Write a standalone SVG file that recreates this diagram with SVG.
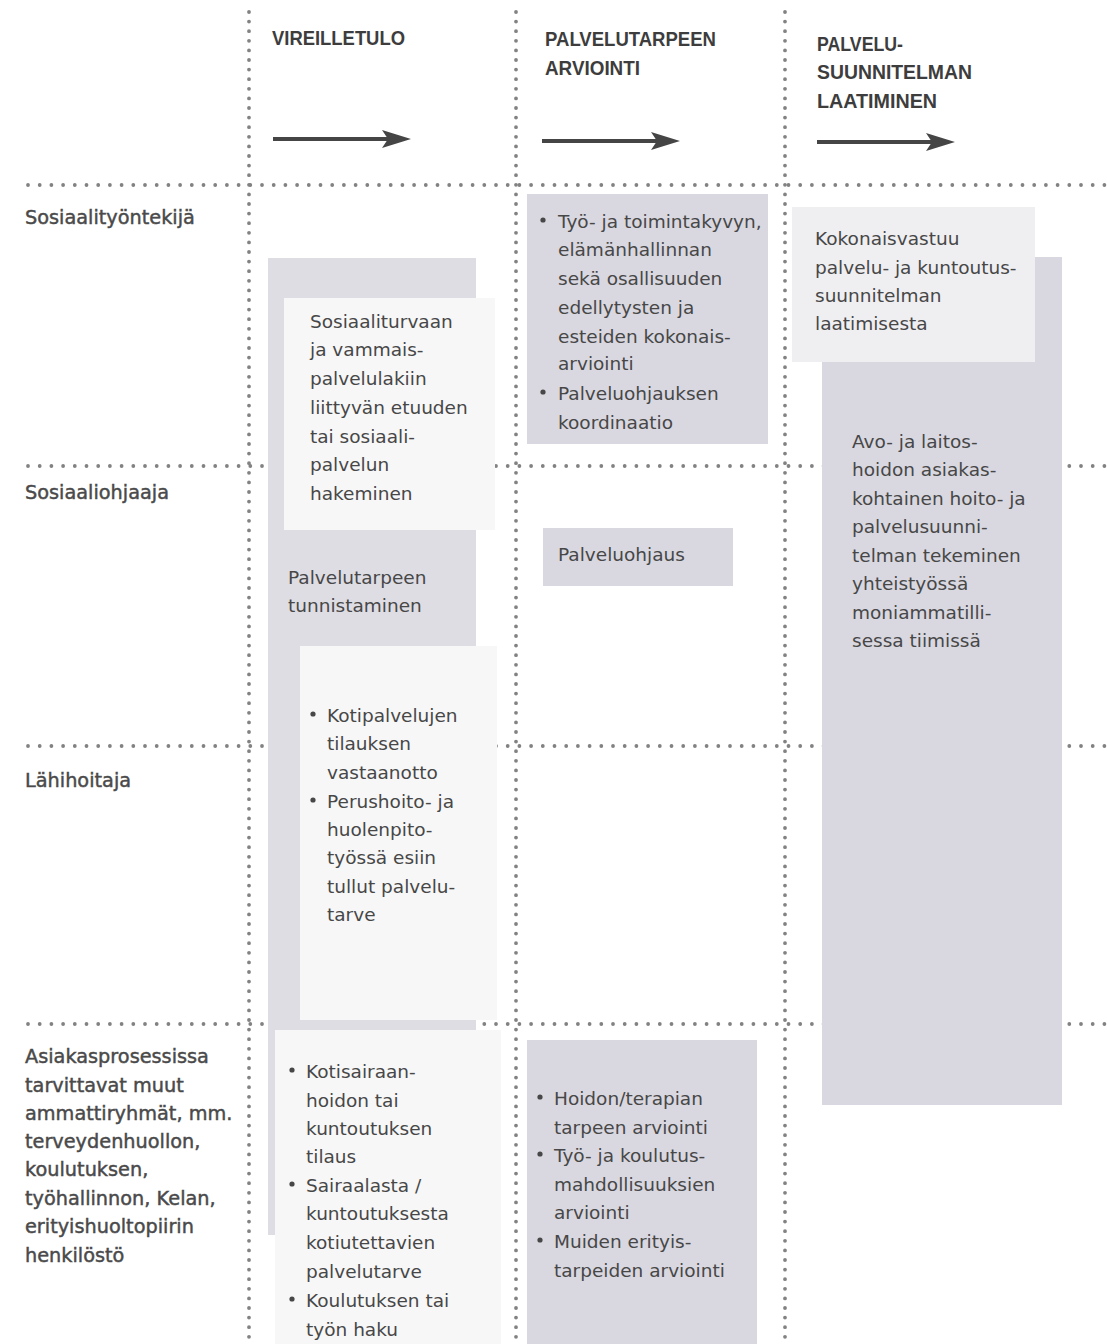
<svg xmlns="http://www.w3.org/2000/svg" width="1107" height="1344" viewBox="0 0 1107 1344">
<style>
.dh{stroke:#828282;stroke-width:3.8;stroke-linecap:round;stroke-dasharray:0 11.7;fill:none}
.dv{stroke:#828282;stroke-width:3.8;stroke-linecap:round;stroke-dasharray:0 9.6;fill:none}
.hd{font-family:"Liberation Sans",Arial,sans-serif;font-weight:bold;font-size:21px;fill:#3d3d3d}
.t{font-family:"DejaVu Sans",Verdana,sans-serif;font-size:18.5px;fill:#474747}
.lb{font-family:"DejaVu Sans",Verdana,sans-serif;font-size:19.3px;fill:#4a4a4a;stroke:#4a4a4a;stroke-width:0.45}
.g{fill:#d9d8e0}
.gl{fill:#dedde4}
.w{fill:#f7f7f8}
.lt{fill:#efeff2}
.b{fill:#474747}
.ar{stroke:#454545;stroke-width:4;fill:none}
.ah{fill:#454545}
</style>
<rect width="1107" height="1344" fill="#ffffff"/>
<g id="grid">
<line class="dv" x1="249" y1="12" x2="249" y2="1344"/>
<line class="dv" x1="516" y1="12" x2="516" y2="1344"/>
<line class="dv" x1="785" y1="12" x2="785" y2="1344"/>
<line class="dh" x1="28" y1="185" x2="1107" y2="185"/>
<line class="dh" x1="28" y1="466" x2="1107" y2="466"/>
<line class="dh" x1="28" y1="746" x2="1107" y2="746"/>
<line class="dh" x1="28" y1="1024" x2="1107" y2="1024"/>
</g>
<g id="headers">
<text class="hd" x="272" y="45" textLength="133" lengthAdjust="spacingAndGlyphs">VIREILLETULO</text>
<text class="hd" x="545" y="46" textLength="171" lengthAdjust="spacingAndGlyphs">PALVELUTARPEEN</text>
<text class="hd" x="545" y="75" textLength="95" lengthAdjust="spacingAndGlyphs">ARVIOINTI</text>
<text class="hd" x="817" y="51" textLength="86" lengthAdjust="spacingAndGlyphs">PALVELU-</text>
<text class="hd" x="817" y="79" textLength="155" lengthAdjust="spacingAndGlyphs">SUUNNITELMAN</text>
<text class="hd" x="817" y="108" textLength="120" lengthAdjust="spacingAndGlyphs">LAATIMINEN</text>
</g>
<g id="connectors">
<line class="ar" x1="273" y1="139" x2="390" y2="139"/>
<path class="ah" d="M411,139 L382,130 L388,139 L382,148 Z"/>
<line class="ar" x1="542" y1="141" x2="659" y2="141"/>
<path class="ah" d="M680,141 L651,132 L657,141 L651,150 Z"/>
<line class="ar" x1="817" y1="142" x2="934" y2="142"/>
<path class="ah" d="M955,142 L926,133 L932,142 L926,151 Z"/>
</g>
<g id="row-labels">
<text class="lb" x="25" y="224">Sosiaalityöntekijä</text>
<text class="lb" x="25" y="499">Sosiaaliohjaaja</text>
<text class="lb" x="25" y="787">Lähihoitaja</text>
<text class="lb" x="25" y="1063">Asiakasprosessissa</text>
<text class="lb" x="25" y="1092">tarvittavat muut</text>
<text class="lb" x="25" y="1120">ammattiryhmät, mm.</text>
<text class="lb" x="25" y="1148">terveydenhuollon,</text>
<text class="lb" x="25" y="1176">koulutuksen,</text>
<text class="lb" x="25" y="1205">työhallinnon, Kelan,</text>
<text class="lb" x="25" y="1233">erityishuoltopiirin</text>
<text class="lb" x="25" y="1262">henkilöstö</text>
</g>
<g id="node-vireilletulo-bar">
<rect class="gl" x="268" y="258" width="208" height="977"/>
<text class="t" x="288" y="584">Palvelutarpeen</text>
<text class="t" x="288" y="612">tunnistaminen</text>
</g>
<g id="node-hakeminen">
<rect class="w" x="284" y="298" width="211" height="232"/>
<text class="t" x="310" y="328">Sosiaaliturvaan</text>
<text class="t" x="310" y="356">ja vammais-</text>
<text class="t" x="310" y="385">palvelulakiin</text>
<text class="t" x="310" y="414">liittyvän etuuden</text>
<text class="t" x="310" y="443">tai sosiaali-</text>
<text class="t" x="310" y="471">palvelun</text>
<text class="t" x="310" y="500">hakeminen</text>
</g>
<g id="node-kotipalvelu">
<rect class="w" x="300" y="646" width="197" height="374"/>
<circle class="b" cx="313" cy="714" r="2.6"/>
<text class="t" x="327" y="722">Kotipalvelujen</text>
<text class="t" x="327" y="750">tilauksen</text>
<text class="t" x="327" y="779">vastaanotto</text>
<circle class="b" cx="313" cy="800" r="2.6"/>
<text class="t" x="327" y="808">Perushoito- ja</text>
<text class="t" x="327" y="836">huolenpito-</text>
<text class="t" x="327" y="864">työssä esiin</text>
<text class="t" x="327" y="893">tullut palvelu-</text>
<text class="t" x="327" y="921">tarve</text>
</g>
<g id="node-kotisairaanhoito">
<rect class="w" x="275" y="1030" width="226" height="314"/>
<circle class="b" cx="292" cy="1070" r="2.6"/>
<text class="t" x="306" y="1078">Kotisairaan-</text>
<text class="t" x="306" y="1107">hoidon tai</text>
<text class="t" x="306" y="1135">kuntoutuksen</text>
<text class="t" x="306" y="1163">tilaus</text>
<circle class="b" cx="292" cy="1184" r="2.6"/>
<text class="t" x="306" y="1192">Sairaalasta /</text>
<text class="t" x="306" y="1220">kuntoutuksesta</text>
<text class="t" x="306" y="1249">kotiutettavien</text>
<text class="t" x="306" y="1278">palvelutarve</text>
<circle class="b" cx="292" cy="1299" r="2.6"/>
<text class="t" x="306" y="1307">Koulutuksen tai</text>
<text class="t" x="306" y="1336">työn haku</text>
</g>
<g id="node-kokonaisarviointi">
<rect class="g" x="527" y="194" width="241" height="250"/>
<circle class="b" cx="543" cy="220" r="2.6"/>
<text class="t" x="558" y="228">Työ- ja toimintakyvyn,</text>
<text class="t" x="558" y="256">elämänhallinnan</text>
<text class="t" x="558" y="285">sekä osallisuuden</text>
<text class="t" x="558" y="314">edellytysten ja</text>
<text class="t" x="558" y="343">esteiden kokonais-</text>
<text class="t" x="558" y="370">arviointi</text>
<circle class="b" cx="543" cy="392" r="2.6"/>
<text class="t" x="558" y="400">Palveluohjauksen</text>
<text class="t" x="558" y="429">koordinaatio</text>
</g>
<g id="node-palveluohjaus">
<rect class="g" x="543" y="528" width="190" height="58"/>
<text class="t" x="558" y="561">Palveluohjaus</text>
</g>
<g id="node-erityisarviointi">
<rect class="g" x="527" y="1040" width="230" height="304"/>
<circle class="b" cx="540" cy="1097" r="2.6"/>
<text class="t" x="554" y="1105">Hoidon/terapian</text>
<text class="t" x="554" y="1134">tarpeen arviointi</text>
<circle class="b" cx="540" cy="1154" r="2.6"/>
<text class="t" x="554" y="1162">Työ- ja koulutus-</text>
<text class="t" x="554" y="1191">mahdollisuuksien</text>
<text class="t" x="554" y="1219">arviointi</text>
<circle class="b" cx="540" cy="1240" r="2.6"/>
<text class="t" x="554" y="1248">Muiden erityis-</text>
<text class="t" x="554" y="1277">tarpeiden arviointi</text>
</g>
<g id="node-hoitosuunnitelma">
<rect class="g" x="822" y="257" width="240" height="848"/>
<text class="t" x="852" y="448">Avo- ja laitos-</text>
<text class="t" x="852" y="476">hoidon asiakas-</text>
<text class="t" x="852" y="505">kohtainen hoito- ja</text>
<text class="t" x="852" y="533">palvelusuunni-</text>
<text class="t" x="852" y="562">telman tekeminen</text>
<text class="t" x="852" y="590">yhteistyössä</text>
<text class="t" x="852" y="619">moniammatilli-</text>
<text class="t" x="852" y="647">sessa tiimissä</text>
</g>
<g id="node-kokonaisvastuu">
<rect class="lt" x="792" y="207" width="243" height="155"/>
<text class="t" x="815" y="245">Kokonaisvastuu</text>
<text class="t" x="815" y="274">palvelu- ja kuntoutus-</text>
<text class="t" x="815" y="302">suunnitelman</text>
<text class="t" x="815" y="330">laatimisesta</text>
</g>
</svg>
